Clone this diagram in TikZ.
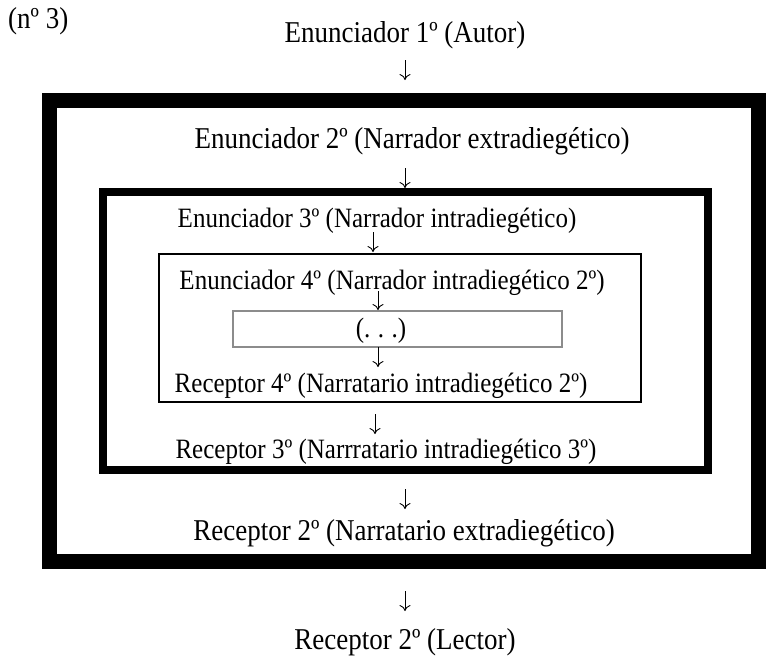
\documentclass[tikz,border=0pt]{standalone}
\usepackage{fontspec}
\usepackage{graphicx}
\setmainfont{Liberation Serif}
\usetikzlibrary{arrows.meta}
\newcommand{\talltext}[1]{\scalebox{1}[1.12]{#1}}
\begin{document}
\begin{tikzpicture}[x=1pt,y=-1pt,
  bigtext/.style={font=\fontsize{27}{30}\selectfont, inner sep=0pt},
  smalltext/.style={font=\fontsize{25}{28}\selectfont, inner sep=0pt},
  framebox/.style={draw=black, fill=none, inner sep=0pt, outer sep=0pt},
  arr/.style={-{To[length=6pt,width=11pt]}, line width=0.9pt}]
\useasboundingbox (0,0) rectangle (766,659);
\clip (0,0) rectangle (766,659);
% boxes
\node[framebox, line width=15pt, minimum width=709pt, minimum height=461pt] (box1) at (404,331) {};
\node[framebox, line width=8pt, minimum width=605pt, minimum height=278pt] (box2) at (405.5,331) {};
\node[framebox, line width=2pt, minimum width=482pt, minimum height=148pt] (box3) at (400,328) {};
\node[framebox, draw=gray!90, line width=2.5pt, minimum width=329pt, minimum height=36pt] (dots) at (397.5,329) {};
% texts
\node[bigtext, anchor=base west] (num) at (8,28) {\talltext{(nº 3)}};
\node[bigtext, anchor=base] (e1) at (405,42) {\talltext{Enunciador 1º (Autor)}};
\node[bigtext, anchor=base] (e2) at (412,148) {\talltext{Enunciador 2º (Narrador extradiegético)}};
\node[smalltext, anchor=base] (e3) at (377,227) {\talltext{Enunciador 3º (Narrador intradiegético)}};
\node[smalltext, anchor=base] (e4) at (392,289) {\talltext{Enunciador 4º (Narrador intradiegético 2º)}};
\node[smalltext, anchor=base] (dt) at (381,337) {\talltext{(.\hspace{0.3em}.\hspace{0.3em}.)}};
\node[smalltext, anchor=base] (r4) at (381,392) {\talltext{Receptor 4º (Narratario intradiegético 2º)}};
\node[smalltext, anchor=base] (r3) at (386,458) {\talltext{Receptor 3º (Narrratario intradiegético 3º)}};
\node[bigtext, anchor=base] (r2) at (404,540) {\talltext{Receptor 2º (Narratario extradiegético)}};
\node[bigtext, anchor=base] (rl) at (405,649) {\talltext{Receptor 2º (Lector)}};
% arrows
\coordinate (a1s) at (405,60);  \coordinate (a1e) at (405,80);
\coordinate (a2s) at (405,168); \coordinate (a2e) at (405,188);
\coordinate (a3s) at (373,232); \coordinate (a3e) at (373,252);
\coordinate (a4s) at (378,291); \coordinate (a4e) at (378,310);
\coordinate (a5s) at (378,347); \coordinate (a5e) at (378,367);
\coordinate (a6s) at (375,414); \coordinate (a6e) at (375,434);
\coordinate (a7s) at (405,489); \coordinate (a7e) at (405,509);
\coordinate (a8s) at (405,591); \coordinate (a8e) at (405,611);
\foreach \i in {1,...,8} \draw[arr] (a\i s) -- (a\i e);
\end{tikzpicture}
\end{document}
